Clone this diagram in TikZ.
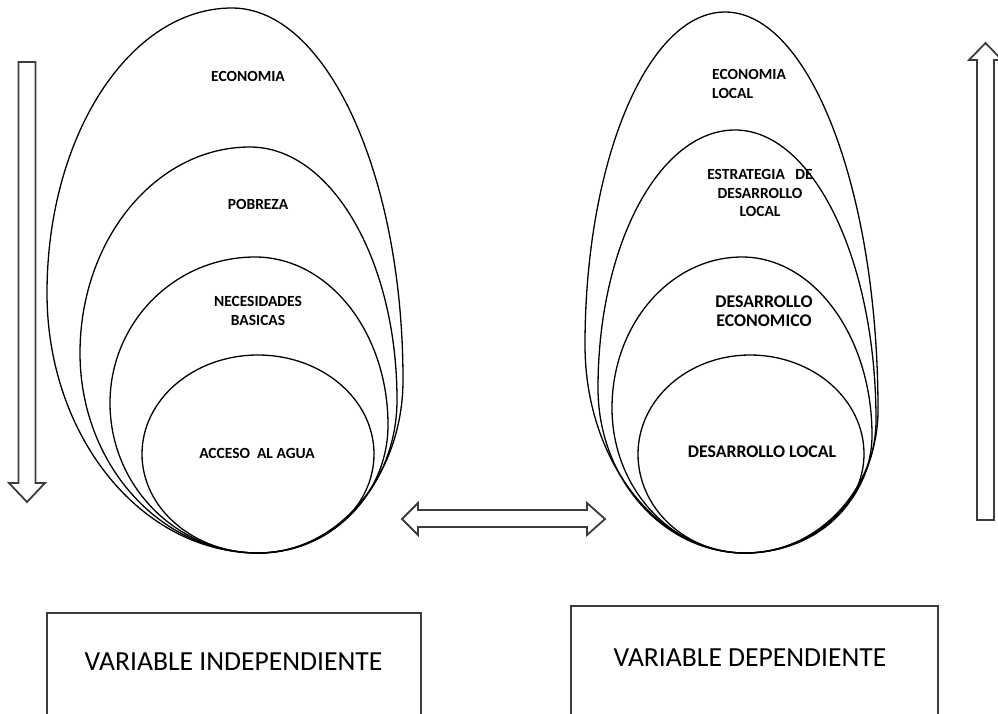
\documentclass[tikz,border=0pt]{standalone}
\usepackage{fontspec}
\setmainfont{Carlito}
\definecolor{framegray}{RGB}{60,60,60}

% one ring: bottom (bx,by), left (lx,ml), top (tx,top), right (rx,mr)
\newcommand{\drawring}[8]{%
    \pgfmathsetmacro{\ringbl}{#1-#3}%
    \pgfmathsetmacro{\ringyl}{#2-#4}%
    \pgfmathsetmacro{\ringtl}{#5-#3}%
    \pgfmathsetmacro{\ringtyl}{#4-#6}%
    \pgfmathsetmacro{\ringtr}{#7-#5}%
    \pgfmathsetmacro{\ringtyr}{#8-#6}%
    \pgfmathsetmacro{\ringbr}{#7-#1}%
    \pgfmathsetmacro{\ringyr}{#2-#8}%
    \draw[ring] (#1,#2)
        arc[start angle=-90, end angle=-180, x radius=\ringbl pt, y radius=\ringyl pt]
        arc[start angle=180, end angle=90, x radius=\ringtl pt, y radius=\ringtyl pt]
        arc[start angle=90, end angle=0, x radius=\ringtr pt, y radius=\ringtyr pt]
        arc[start angle=0, end angle=-90, x radius=\ringbr pt, y radius=\ringyr pt]
        -- cycle;}

\begin{document}
\begin{tikzpicture}[x=1pt, y=-1pt,
        ring/.style={draw=black, line width=1.3pt},
        lbl/.style={font=\bfseries\fontsize{15.5}{18.5}\selectfont, align=center, inner sep=0pt},
        biglbl/.style={font=\bfseries\fontsize{17.8}{18.5}\selectfont, align=center, inner sep=0pt},
        blockarrow/.style={draw=framegray, line width=1.8pt, line join=miter, fill=white},
        varbox/.style={rectangle, draw=framegray, line width=1.8pt, anchor=north west, inner sep=0pt},
        vartext/.style={font=\fontsize{27.6}{30}\selectfont, inner sep=0pt}
    ]

        \useasboundingbox (0,0) rectangle (998,713);

        % left set: variable independiente
        \drawring{258}{553}{47}{293}{232}{8}{403}{380}
        \drawring{258}{553}{80}{353}{250}{147}{397}{400}
        \drawring{258}{553}{110}{403}{255}{257}{388}{425}
        \drawring{258}{553}{142}{454}{258}{355}{374}{454}

        \node (economia) [lbl] at (248,76) {ECONOMIA};
        \node (pobreza) [lbl] at (258,204) {POBREZA};
        \node (necesidades) [lbl] at (258,311) {NECESIDADES\\BASICAS};
        \node (agua) [lbl] at (257,453) {ACCESO\ \ AL AGUA};

        % right set: variable dependiente
        \drawring{745}{553}{585}{345}{725}{12}{878}{410}
        \drawring{745}{553}{598}{388}{735}{130}{876}{420}
        \drawring{745}{553}{612}{408}{742}{257}{872}{435}
        \drawring{745}{553}{638}{454}{750}{355}{864}{454}

        \node (local) [lbl, align=left, anchor=west] at (712,84) {ECONOMIA\\LOCAL};
        \node (estrategia) [lbl] at (760,193) {ESTRATEGIA\ \ \ DE\\DESARROLLO\\LOCAL};
        \node (economico) [biglbl] at (764,311) {DESARROLLO\\ECONOMICO};
        \node (desarrollo) [biglbl] at (762,452) {DESARROLLO LOCAL};

        % block arrows
        \draw[blockarrow] (18.5,62) -- (35.5,62) -- (35.5,483) -- (45,483) -- (27,502)
            -- (9,483) -- (18.5,483) -- cycle;
        \draw[blockarrow] (977,520) -- (994,520) -- (994,60) -- (1002,60) -- (985.5,43)
            -- (969,60) -- (977,60) -- cycle;
        \draw[blockarrow] (402,519) -- (418,503) -- (418,510) -- (587,510) -- (587,503)
            -- (605,519) -- (587,535) -- (587,527) -- (418,527) -- (418,535) -- cycle;

        % variable boxes
        \begin{scope}
            \clip (0,0) rectangle (998,713);
            \node (indep box) [varbox, minimum width=374pt, minimum height=140pt] at (46,612) {};
            \node (dep box) [varbox, minimum width=367pt, minimum height=140pt] at (570,605) {};
        \end{scope}
        \node (indep) [vartext] at (233.5,662) {VARIABLE INDEPENDIENTE};
        \node (dep) [vartext] at (750,658) {VARIABLE DEPENDIENTE};
    \end{tikzpicture}
\end{document}
